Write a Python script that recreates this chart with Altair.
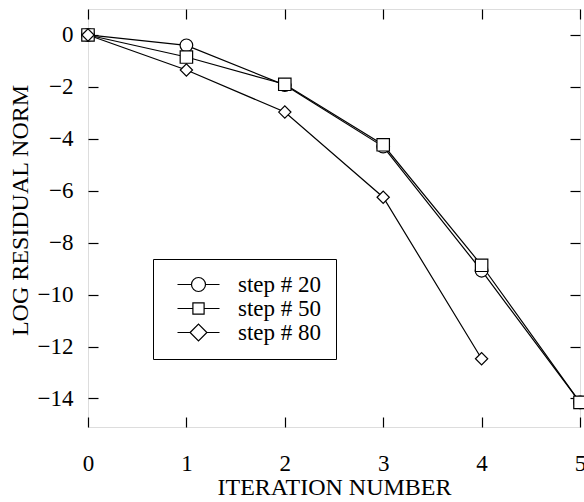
import altair as alt
import pandas as pd

iterations = [0, 1, 2, 3, 4, 5]
step20 = [0.0, -0.4, -1.93, -4.3, -9.08, -14.15]
step50 = [0.0, -0.85, -1.9, -4.23, -8.87, -14.15]
step80 = [0.0, -1.35, -2.97, -6.25, -12.47]
series_names = ["step # 20", "step # 50", "step # 80"]
x_ticks = [0, 1, 2, 3, 4, 5]
y_ticks = [0, -2, -4, -6, -8, -10, -12, -14]

rows = []
for name, vals in zip(series_names, [step20, step50, step80]):
    for it, v in zip(iterations, vals):
        rows.append({"iter": it, "val": v, "series": name})
df = pd.DataFrame(rows)

FONT = "Liberation Serif"
xs = alt.Scale(domain=[0, 5], nice=False, zero=False)
ys = alt.Scale(domain=[-15.1, 1], nice=False, zero=False)

x_bottom = alt.X("iter:Q", scale=xs, axis=alt.Axis(
    orient="bottom", values=x_ticks, tickSize=10, offset=-10, domain=False, grid=False,
    labelPadding=25, labelFont=FONT, labelFontSize=23, labelColor="black", labelFlush=False,
    tickColor="black", tickWidth=1.2, format="d",
    title="ITERATION NUMBER", titleFont=FONT, titleFontSize=24, titleFontWeight="normal",
    titleColor="black", titleBaseline="alphabetic", titleY=77))
y_left = alt.Y("val:Q", scale=ys, axis=alt.Axis(
    orient="left", values=y_ticks, tickSize=10, offset=-10, domain=False, grid=False,
    labelPadding=15, labelFont=FONT, labelFontSize=23, labelColor="black", labelFlush=False,
    tickColor="black", tickWidth=1.2,
    title="LOG RESIDUAL NORM", titleFont=FONT, titleFontSize=24, titleFontWeight="normal",
    titleColor="black", titleAngle=-90, titleBaseline="alphabetic", titleX=-71, titleY=201,
    titleAlign="center"))

lines = alt.Chart(df).mark_line(color="black", strokeWidth=1.2).encode(
    x=x_bottom, y=y_left, detail="series:N", order="iter:Q")

x_top = alt.X("iter:Q", scale=xs, axis=alt.Axis(
    orient="top", values=x_ticks, tickSize=10, offset=-10, domain=False, grid=False,
    labels=False, title=None, tickColor="black", tickWidth=1.2))
y_right = alt.Y("val:Q", scale=ys, axis=alt.Axis(
    orient="right", values=y_ticks, tickSize=10, offset=-10, domain=False, grid=False,
    labels=False, title=None, tickColor="black", tickWidth=1.2))

points = alt.Chart(df).mark_point(filled=False, fill="white", fillOpacity=1, stroke="black",
                                  strokeWidth=1.2, opacity=1).encode(
    x=x_top, y=y_right,
    shape=alt.Shape("series:N", scale=alt.Scale(domain=series_names,
                                                 range=["circle", "square", "diamond"]),
                    legend=None),
    size=alt.Size("series:N", scale=alt.Scale(domain=series_names, range=[160, 150, 260]),
                  legend=None),
)

legend_paths = [
    "M-1,0A1,1,0,1,1,1,0A1,1,0,1,1,-1,0Z M-3,0L-1,0 M1,0L3,0",
    "M-0.8,-0.8H0.8V0.8H-0.8Z M-3,0H-0.8 M0.8,0H3",
    "M-1.2,0L0,-1.2L1.2,0L0,1.2Z M-3,0H-1.2 M1.2,0H3",
]

legend_layer = alt.Chart(df).mark_point(opacity=0).encode(
    x=alt.X("iter:Q", scale=xs, axis=None),
    y=alt.Y("val:Q", scale=ys, axis=None),
    shape=alt.Shape("series:N", scale=alt.Scale(domain=series_names, range=legend_paths),
                    legend=alt.Legend(
                        title=None, orient="none", legendX=65, legendY=250,
                        strokeColor="black", fillColor="white", padding=14,
                        labelFont=FONT, labelFontSize=23, labelColor="black",
                        labelExpr="datum.label + '\u00a0\u00a0'",
                        symbolSize=196, symbolFillColor="white", symbolStrokeColor="black",
                        symbolStrokeWidth=1.2, symbolOpacity=1, symbolOffset=20,
                        labelOffset=28, rowPadding=-2)),
)

chart = alt.layer(lines, points, legend_layer).resolve_scale(
    shape="independent", size="independent"
).resolve_axis(x="independent", y="independent").properties(
    width=492, height=418, autosize="none",
    padding={"left": 88, "top": 9, "right": 4, "bottom": 75},
).configure_view(stroke="black", strokeWidth=1.4).configure(
    background="white", font=FONT
).configure_axis(labelFont=FONT, titleFont=FONT).configure_legend(labelFont=FONT)

chart.save("out.html", embed_options={"renderer": "svg", "actions": False})
